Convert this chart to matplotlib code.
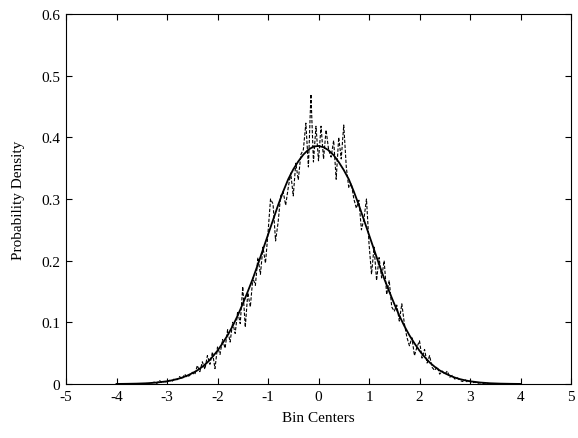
import numpy as np
import matplotlib
matplotlib.use('Agg')
import matplotlib.pyplot as plt

plt.rcParams['font.family'] = ['Liberation Serif', 'DejaVu Serif']
plt.rcParams['axes.unicode_minus'] = False

# smooth density estimate (solid line)
fit_x = [-4.0, -3.8, -3.6, -3.4, -3.2,
         -3.0, -2.9, -2.8, -2.7, -2.6, -2.5, -2.4, -2.3, -2.2, -2.1,
         -2.0, -1.9, -1.8, -1.7, -1.6, -1.5, -1.4, -1.3, -1.2, -1.1,
         -1.0, -0.9, -0.8, -0.7, -0.6, -0.5, -0.4, -0.3, -0.2, -0.1,
         0.0, 0.1, 0.2, 0.3, 0.4, 0.5, 0.6, 0.7, 0.8, 0.9,
         1.0, 1.1, 1.2, 1.3, 1.4, 1.5, 1.6, 1.7, 1.8, 1.9,
         2.0, 2.1, 2.2, 2.3, 2.4, 2.5, 2.6, 2.7, 2.8, 2.9,
         3.0, 3.2, 3.4, 3.6, 3.8, 4.0]
fit_y = [0.0001, 0.0003, 0.0006, 0.0012, 0.0024,
         0.0044, 0.006, 0.0079, 0.0104, 0.0136, 0.0175, 0.022, 0.028, 0.035, 0.044,
         0.054, 0.066, 0.079, 0.094, 0.111, 0.130, 0.150, 0.171, 0.194, 0.218,
         0.242, 0.266, 0.290, 0.312, 0.332, 0.348, 0.361, 0.372, 0.380, 0.385,
         0.386, 0.384, 0.379, 0.371, 0.360, 0.347, 0.332, 0.312, 0.290, 0.266,
         0.242, 0.218, 0.194, 0.171, 0.150, 0.130, 0.111, 0.094, 0.079, 0.066,
         0.054, 0.044, 0.035, 0.028, 0.022, 0.0175, 0.0136, 0.0104, 0.0079, 0.006,
         0.0044, 0.0024, 0.0012, 0.0006, 0.0003, 0.0001]

# histogram density (dashed line), bin centers -3.5 .. 3.5
bin_centers = np.linspace(-3.5, 3.5, 141)
hist_y = [0, 0, 0.001, 0, 0.002, 0.003, 0.001, 0.006, 0.002, 0.004,
          0.003, 0.006, 0.004, 0.009, 0.007, 0.012, 0.008, 0.016, 0.011, 0.014,
          0.019, 0.015, 0.030, 0.020, 0.036, 0.024, 0.046, 0.032, 0.052, 0.025,
          0.060, 0.048, 0.072, 0.058, 0.088, 0.068, 0.100, 0.082, 0.118, 0.098,
          0.158, 0.092, 0.148, 0.125, 0.172, 0.160, 0.205, 0.178, 0.222, 0.196,
          0.245, 0.300, 0.292, 0.232, 0.262, 0.305, 0.312, 0.290, 0.318, 0.342,
          0.305, 0.358, 0.331, 0.372, 0.380, 0.423, 0.352, 0.470, 0.360, 0.418,
          0.362, 0.418, 0.365, 0.412, 0.380, 0.368, 0.395, 0.332, 0.400, 0.365,
          0.420, 0.352, 0.318, 0.325, 0.300, 0.285, 0.298, 0.250, 0.268, 0.300,
          0.228, 0.178, 0.222, 0.168, 0.205, 0.172, 0.200, 0.145, 0.168, 0.125,
          0.118, 0.128, 0.102, 0.130, 0.098, 0.076, 0.062, 0.075, 0.046, 0.060,
          0.070, 0.042, 0.056, 0.034, 0.046, 0.027, 0.022, 0.028, 0.016, 0.021,
          0.016, 0.021, 0.011, 0.014, 0.008, 0.010, 0.006, 0.004, 0.007, 0.003,
          0.005, 0.002, 0.003, 0.001, 0.002, 0.001, 0, 0.001, 0, 0,
          0]

fig = plt.figure(figsize=(5.78, 4.39), dpi=100)
ax = fig.add_axes([66/578, 1-385/439, 505/578, 370/439])

ax.plot(bin_centers, hist_y, color='black', lw=0.8, linestyle=(0, (3, 1.5)))
ax.plot(fit_x, fit_y, color='black', lw=1.3)

ax.set_xlim(-5, 5)
ax.set_ylim(0, 0.6)
ax.set_xticks(range(-5, 6))
ax.set_yticks([0, 0.1, 0.2, 0.3, 0.4, 0.5, 0.6])
ax.set_yticklabels(['0', '0.1', '0.2', '0.3', '0.4', '0.5', '0.6'])
ax.tick_params(direction='in', top=True, right=True, length=4, labelsize=11, pad=4)
ax.set_xlabel('Bin Centers', fontsize=11, labelpad=6)
ax.set_ylabel('Probability Density', fontsize=11, labelpad=12)

fig.savefig('out.png', dpi=100)
